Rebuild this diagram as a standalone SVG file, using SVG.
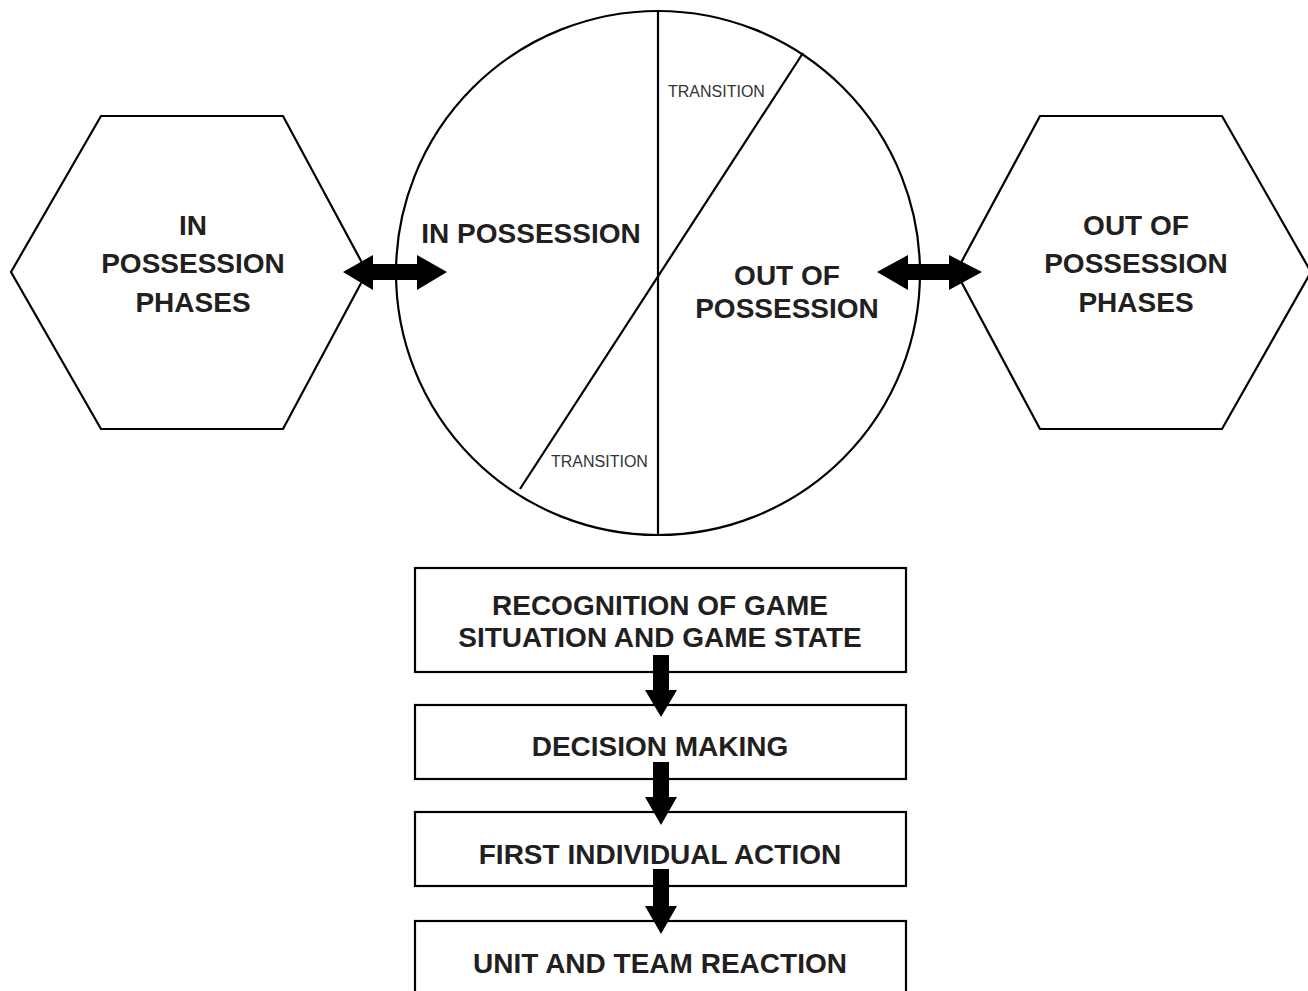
<svg xmlns="http://www.w3.org/2000/svg" width="1308" height="991" viewBox="0 0 1308 991">
<style>
.ln{fill:none;stroke:#000;stroke-width:2.2}
.bx{fill:#fff;stroke:#000;stroke-width:2.2}
.big{font-family:"Liberation Sans",Arial,sans-serif;font-weight:bold;font-size:28px;fill:#231f20;text-anchor:middle}
.sm{font-family:"Liberation Sans",Arial,sans-serif;font-size:16px;fill:#333;text-anchor:start}
.ar{fill:#000}
</style>
<rect width="1308" height="991" fill="#fff"/>
<g id="hex-in">
<polygon class="bx" points="11,272 101,116 283,116 367,272 283,429 101,429"/>
<text class="big" x="193" y="235">IN</text>
<text class="big" x="193" y="273">POSSESSION</text>
<text class="big" x="193" y="312">PHASES</text>
</g>
<g id="hex-out">
<polygon class="bx" points="956,272 1040,116 1222,116 1311,272 1222,429 1040,429"/>
<text class="big" x="1136" y="235">OUT OF</text>
<text class="big" x="1136" y="273">POSSESSION</text>
<text class="big" x="1136" y="312">PHASES</text>
</g>
<g id="circle">
<circle class="bx" cx="658" cy="273" r="262"/>
<line class="ln" x1="658" y1="11" x2="658" y2="535"/>
<line class="ln" x1="803" y1="53" x2="520" y2="489"/>
<text class="big" x="531" y="243">IN POSSESSION</text>
<text class="big" x="787" y="285">OUT OF</text>
<text class="big" x="787" y="318">POSSESSION</text>
<text class="sm" x="668" y="97">TRANSITION</text>
<text class="sm" x="551" y="467">TRANSITION</text>
</g>
<g id="box1">
<rect class="bx" x="415" y="568" width="491" height="104"/>
<text class="big" x="660" y="615">RECOGNITION OF GAME</text>
<text class="big" x="660" y="647">SITUATION AND GAME STATE</text>
</g>
<g id="box2">
<rect class="bx" x="415" y="705" width="491" height="74"/>
<text class="big" x="660" y="756">DECISION MAKING</text>
</g>
<g id="box3">
<rect class="bx" x="415" y="812" width="491" height="74"/>
<text class="big" x="660" y="864">FIRST INDIVIDUAL ACTION</text>
</g>
<g id="box4">
<rect class="bx" x="415" y="921" width="491" height="90"/>
<text class="big" x="660" y="973">UNIT AND TEAM REACTION</text>
</g>
<g id="connectors">
<polygon class="ar" points="343,272 373,255 373,264 417,264 417,255 447,272 417,290 417,280 373,280 373,290"/>
<polygon class="ar" points="877,272 908,255 908,264 949,264 949,255 982,272 949,290 949,280 908,280 908,290"/>
<polygon class="ar" points="653,655 669,655 669,690 677,690 661,717 645,690 653,690"/>
<polygon class="ar" points="653,762 669,762 669,797 677,797 661,825 645,797 653,797"/>
<polygon class="ar" points="653,869 669,869 669,906 677,906 661,934 645,906 653,906"/>
</g>
</svg>
